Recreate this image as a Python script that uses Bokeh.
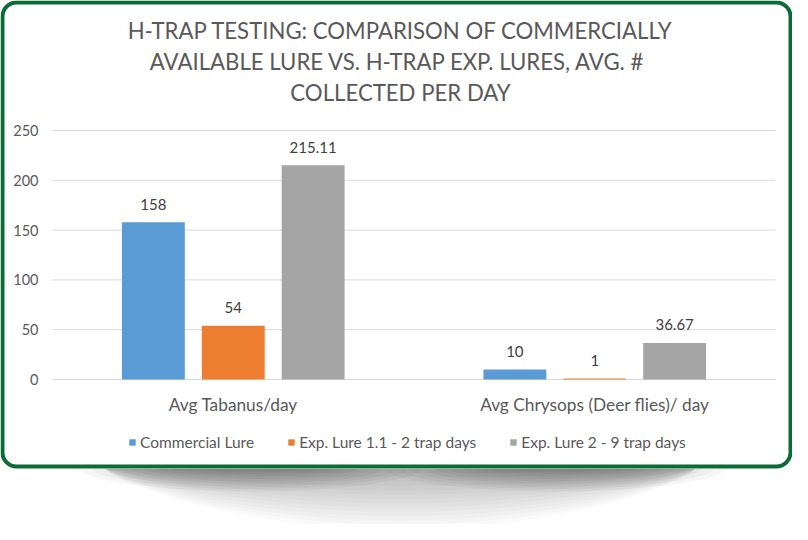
import numpy as np
from bokeh.plotting import figure
from bokeh.models import (Range1d, Legend, LegendItem, Label, BoxAnnotation, PolyAnnotation,
                          ColumnDataSource)
from bokeh.transform import dodge
from bokeh.core.properties import value
from bokeh.embed import file_html
from bokeh.resources import INLINE

# ---------------- data ----------------
categories = ["Avg Tabanus/day", "Avg Chrysops (Deer flies)/ day"]
series_names = ["Commercial Lure", "Exp. Lure 1.1 - 2 trap days", "Exp. Lure 2 - 9 trap days"]
commercial = [158, 10]
exp_lure_1 = [54, 1]
exp_lure_2 = [215.11, 36.67]
y_ticks = [0, 50, 100, 150, 200, 250]
title_lines = ["H-TRAP TESTING: COMPARISON OF COMMERCIALLY",
               "AVAILABLE LURE VS. H-TRAP  EXP. LURES, AVG. #",
               "COLLECTED PER DAY"]
colors = ["#5b9bd5", "#ed7d31", "#a5a5a5"]

# ---------------- layout / style ----------------
TEXT = "#595959"
FONT = "Lato"
GREEN = "#0b6a36"
W, H = 792, 524
PL, PR = 52, 775          # left/right pixel of the plotting area
PB, PT = 379, 130         # pixel rows of y=0 and y=250
ncat = len(categories)
sx = (PR - PL) / ncat
sy = (PB - PT) / y_ticks[-1]

p = figure(width=W, height=H, output_backend="svg", toolbar_location=None,
           x_axis_type=None, y_axis_type=None,
           x_range=Range1d(-PL / sx, ncat + (W - PR) / sx),
           y_range=Range1d(-(H - PB) / sy, PB / sy),
           min_border=0, min_border_left=0, min_border_right=0, min_border_top=0, min_border_bottom=0,
           background_fill_color="white", border_fill_color="white", outline_line_color=None)
p.title.visible = False
p.xgrid.visible = False
p.ygrid.visible = False

# horizontal gridlines over the category span
p.segment(x0=[0] * len(y_ticks), x1=[ncat] * len(y_ticks), y0=y_ticks, y1=y_ticks,
          line_color="#d9d9d9", line_width=1)

# y tick labels
p.text(x=[0] * len(y_ticks), y=y_ticks, text=[str(t) for t in y_ticks], x_offset=-14,
       text_align="right", text_baseline="middle", text_font=value(FONT),
       text_font_size="14.5px", text_color=TEXT)

# category labels
xc = [i + 0.5 for i in range(ncat)]
p.text(x=xc, y=[0] * ncat, text=categories, y_offset=25, text_align="center",
       text_baseline="middle", text_font=value(FONT), text_font_size="17.3px", text_color=TEXT)

series = [commercial, exp_lure_1, exp_lure_2]
data = dict(xc=xc)
for i, s in enumerate(series):
    data[f"s{i}"] = s
    data[f"l{i}"] = [f"{v:g}" for v in s]
src = ColumnDataSource(data)

offsets = [-0.221, 0.0, 0.221]
renderers = []
for i in range(3):
    r = p.vbar(x=dodge("xc", offsets[i]), top=f"s{i}", bottom=0, width=0.174,
               source=src, fill_color=colors[i], line_color=None)
    renderers.append(r)
    p.text(x=dodge("xc", offsets[i]), y=f"s{i}", text=f"l{i}", source=src,
           text_align="center", text_baseline="middle", y_offset=-18,
           text_font=value(FONT), text_font_size="15px", text_color="#404040")

# legend
legend = Legend(items=[LegendItem(label=n, renderers=[r]) for n, r in zip(series_names, renderers)],
                orientation="horizontal", location=(128, H - 451), padding=0, margin=0, spacing=33,
                glyph_width=8, glyph_height=8, label_standoff=4,
                label_text_font=FONT, label_text_font_size="15.5px", label_text_color=TEXT,
                border_line_color=None, background_fill_alpha=0)
p.add_layout(legend)

# title lines
for i, line in enumerate(title_lines):
    p.add_layout(Label(x=400, y=H - (30 + 31 * i), x_units="screen", y_units="screen", text=line,
                       text_align="center", text_baseline="middle", text_font=FONT,
                       text_font_size="22.2px", text_color=TEXT))

# green rounded frame
p.add_layout(BoxAnnotation(left=2, right=W - 2, top=H - 2, bottom=H - 466,
                           left_units="screen", right_units="screen",
                           top_units="screen", bottom_units="screen",
                           fill_alpha=0, fill_color=None, line_color=GREEN, line_alpha=1.0,
                           line_width=4, border_radius=14))

# soft curved shadow below the frame (decoration)
top_y = H - 468.5
xs = np.linspace(105, 695, 120)
t = (xs - 400) / 295
for k in range(1, 15):
    d = 60 * k / 14
    bot = top_y - d * np.clip(1 - t ** 2, 0, 1) ** 0.8
    p.add_layout(PolyAnnotation(xs=list(xs) + list(xs[::-1]), ys=list(bot) + [top_y] * len(xs),
                                xs_units="screen", ys_units="screen",
                                fill_color="black", fill_alpha=0.02, line_color=None))
for cx in (250, 555):
    for j in range(1, 10):
        hw = 55 + 13 * j
        depth = 2.5 * j
        xx = np.linspace(cx - hw, cx + hw, 60)
        tt = (xx - cx) / hw
        bb = top_y - depth * np.clip(1 - tt ** 2, 0, 1) ** 0.6
        p.add_layout(PolyAnnotation(xs=list(xx) + list(xx[::-1]), ys=list(bb) + [top_y] * len(xx),
                                    xs_units="screen", ys_units="screen",
                                    fill_color="black", fill_alpha=0.035, line_color=None))

open("out.html", "w").write(file_html(p, INLINE))
